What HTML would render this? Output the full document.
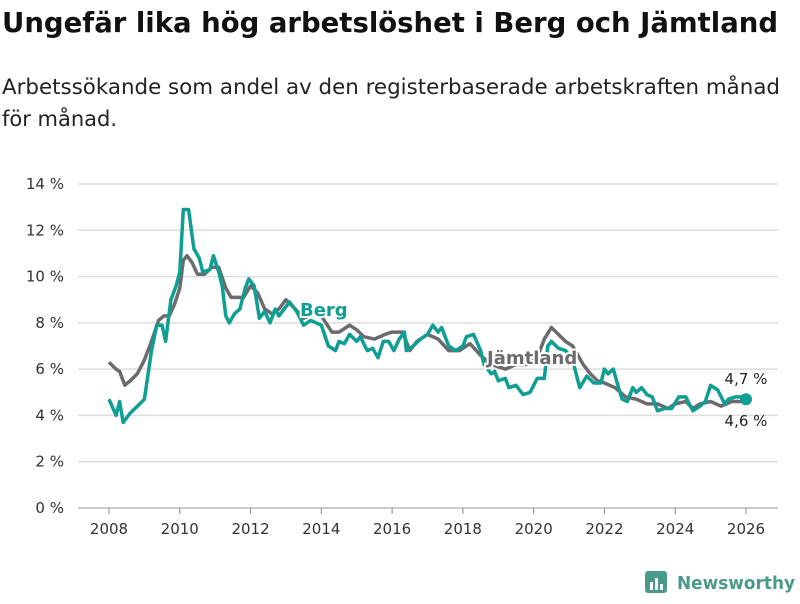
<!DOCTYPE html>
<html><head><meta charset="utf-8"><style>
body{margin:0;background:#fff;font-family:"DejaVu Sans","Liberation Sans",sans-serif;}
svg text{font-family:"DejaVu Sans","Liberation Sans",sans-serif;}
</style></head><body>
<svg width="800" height="600" viewBox="0 0 800 600">
<text x="2" y="32" font-size="27.5" font-weight="bold" fill="#111" textLength="776" lengthAdjust="spacingAndGlyphs">Ungefär lika hög arbetslöshet i Berg och Jämtland</text>
<text x="2" y="94" font-size="21" fill="#222" textLength="778" lengthAdjust="spacingAndGlyphs">Arbetssökande som andel av den registerbaserade arbetskraften månad</text>
<text x="2" y="126" font-size="21" fill="#222">för månad.</text>
<g id="grid"></g><g id="xaxis"></g><g id="series"></g><g id="labels"></g>
<g>
<rect x="645" y="571" width="22" height="22" rx="3" fill="#4a9a8c"/>
<rect x="650" y="582" width="3" height="8" fill="#fff"/><rect x="655" y="578" width="3" height="12" fill="#fff"/><rect x="660" y="584" width="3" height="6" fill="#fff"/>
<text x="677" y="589" font-size="18" font-weight="bold" fill="#4a9a8c" textLength="118" lengthAdjust="spacingAndGlyphs">Newsworthy</text>
</g>
</svg>
<script>
const yTicks=[0,2,4,6,8,10,12,14];
const xTicks=[2008,2010,2012,2014,2016,2018,2020,2022,2024,2026];
const bergT=[2008,2008.2,2008.3,2008.4,2008.6,2008.8,2009,2009.2,2009.35,2009.5,2009.6,2009.75,2009.9,2010,2010.1,2010.25,2010.4,2010.55,2010.65,2010.85,2010.95,2011.1,2011.2,2011.3,2011.4,2011.55,2011.7,2011.85,2011.95,2012.1,2012.25,2012.4,2012.55,2012.7,2012.8,2012.95,2013.1,2013.3,2013.5,2013.7,2014,2014.2,2014.4,2014.5,2014.65,2014.8,2015,2015.1,2015.3,2015.45,2015.6,2015.75,2015.9,2016.05,2016.2,2016.35,2016.4,2016.6,2016.8,2017,2017.15,2017.3,2017.4,2017.6,2017.8,2018,2018.1,2018.3,2018.5,2018.6,2018.8,2018.9,2019,2019.2,2019.3,2019.5,2019.7,2019.9,2020.1,2020.3,2020.4,2020.5,2020.7,2020.9,2021.1,2021.3,2021.5,2021.7,2021.9,2022,2022.1,2022.25,2022.4,2022.5,2022.65,2022.8,2022.9,2023.05,2023.2,2023.35,2023.5,2023.7,2023.9,2024.1,2024.3,2024.5,2024.7,2024.85,2025,2025.2,2025.4,2025.5,2025.7,2025.9,2026];
const bergV=[4.7,4.0,4.6,3.7,4.1,4.4,4.7,6.8,7.9,7.9,7.2,9.0,9.6,10.2,12.9,12.9,11.2,10.8,10.2,10.3,10.9,10.2,9.6,8.3,8.0,8.4,8.6,9.5,9.9,9.6,8.2,8.5,8.0,8.6,8.3,8.6,8.9,8.5,7.9,8.1,7.9,7.0,6.8,7.2,7.1,7.5,7.2,7.4,6.8,6.9,6.5,7.2,7.2,6.8,7.3,7.6,6.8,7.0,7.3,7.5,7.9,7.6,7.8,7.0,6.8,7.0,7.4,7.5,6.8,6.2,5.8,5.9,5.5,5.6,5.2,5.3,4.9,5.0,5.6,5.6,7.0,7.2,6.9,6.8,6.4,5.2,5.7,5.4,5.4,6.0,5.8,6.0,5.2,4.7,4.6,5.2,5.0,5.2,4.9,4.8,4.2,4.3,4.3,4.8,4.8,4.2,4.4,4.6,5.3,5.1,4.5,4.7,4.8,4.8,4.7];
const jamT=[2008,2008.2,2008.3,2008.45,2008.6,2008.8,2009,2009.2,2009.4,2009.55,2009.7,2009.85,2010,2010.1,2010.2,2010.35,2010.5,2010.7,2010.9,2011.1,2011.3,2011.45,2011.6,2011.8,2012,2012.2,2012.4,2012.6,2012.8,2013,2013.2,2013.5,2013.8,2014,2014.3,2014.5,2014.8,2015,2015.2,2015.5,2015.8,2016,2016.3,2016.5,2016.7,2017,2017.3,2017.6,2017.9,2018.2,2018.5,2018.8,2019.2,2019.5,2019.8,2020.1,2020.3,2020.5,2020.7,2020.9,2021.1,2021.4,2021.6,2021.8,2022,2022.3,2022.6,2022.9,2023.2,2023.5,2023.8,2024,2024.3,2024.5,2024.7,2025,2025.3,2025.6,2025.9,2026];
const jamV=[6.3,6.0,5.9,5.3,5.5,5.8,6.4,7.2,8.1,8.3,8.3,8.8,9.5,10.7,10.9,10.6,10.1,10.1,10.4,10.4,9.5,9.1,9.1,9.1,9.6,9.3,8.6,8.4,8.6,9.0,8.7,8.2,8.4,8.3,7.6,7.6,7.9,7.7,7.4,7.3,7.5,7.6,7.6,6.8,7.2,7.5,7.3,6.8,6.8,7.1,6.6,6.2,6.0,6.2,6.2,6.5,7.3,7.8,7.5,7.2,7.0,6.2,5.8,5.5,5.4,5.2,4.8,4.7,4.5,4.5,4.3,4.5,4.6,4.3,4.5,4.6,4.4,4.6,4.6,4.6];
const X=t=>109+(t-2008)*(746-109)/18;
const Y=v=>508-v*(508-184)/14;
const NS='http://www.w3.org/2000/svg';
function mk(tag,attrs,parent,txt){const e=document.createElementNS(NS,tag);for(const k in attrs)e.setAttribute(k,attrs[k]);if(txt!=null)e.textContent=txt;parent.appendChild(e);return e;}
const grid=document.getElementById('grid');
yTicks.forEach(v=>{
 const l=mk('line',{x1:78,x2:778,y1:Y(v),y2:Y(v),stroke:v===0?'#bbb':'#ddd','stroke-width':1.5},grid);
 
 
 const t=mk('text',{x:64,y:Y(v)+5,'font-size':15,fill:'#333','text-anchor':'end'},grid,v+' %');
 
 
});
const xa=document.getElementById('xaxis');
xTicks.forEach(t=>{
 const l=mk('line',{x1:X(t),x2:X(t),y1:508,y2:514,stroke:'#888','stroke-width':1},xa);
 
 
 const e=mk('text',{x:X(t),y:534,'font-size':15,fill:'#333','text-anchor':'middle'},xa,String(t));
 
 
});
const sg=document.getElementById('series');
function path(T,V){return T.map((t,i)=>(i?'L':'M')+X(t).toFixed(1)+','+Y(V[i]).toFixed(1)).join('');}
const pj=mk('path',{d:path(jamT,jamV),fill:'none',stroke:'#6b6a6f','stroke-width':3.5,'stroke-linejoin':'round'},sg);


const pb=mk('path',{d:path(bergT,bergV),fill:'none',stroke:'#0f9e93','stroke-width':3.5,'stroke-linejoin':'round'},sg);


const dot=mk('circle',{cx:X(2026),cy:Y(bergV[bergV.length-1]),r:6,fill:'#0f9e93'},sg);


const lg=document.getElementById('labels');
const lb=mk('text',{x:300,y:316,'font-size':18,'font-weight':'bold',fill:'#0f9e93',stroke:'#fff','stroke-width':4,'paint-order':'stroke'},lg,'Berg');


const lj=mk('text',{x:487,y:364,'font-size':18,'font-weight':'bold',fill:'#6b6a6f',stroke:'#fff','stroke-width':4,'paint-order':'stroke'},lg,'Jämtland');


const v1=mk('text',{x:746,y:384,'font-size':15,fill:'#222','text-anchor':'middle'},lg,'4,7 %');


const v2=mk('text',{x:746,y:426,'font-size':15,fill:'#222','text-anchor':'middle'},lg,'4,6 %');


</script>
</body></html>
